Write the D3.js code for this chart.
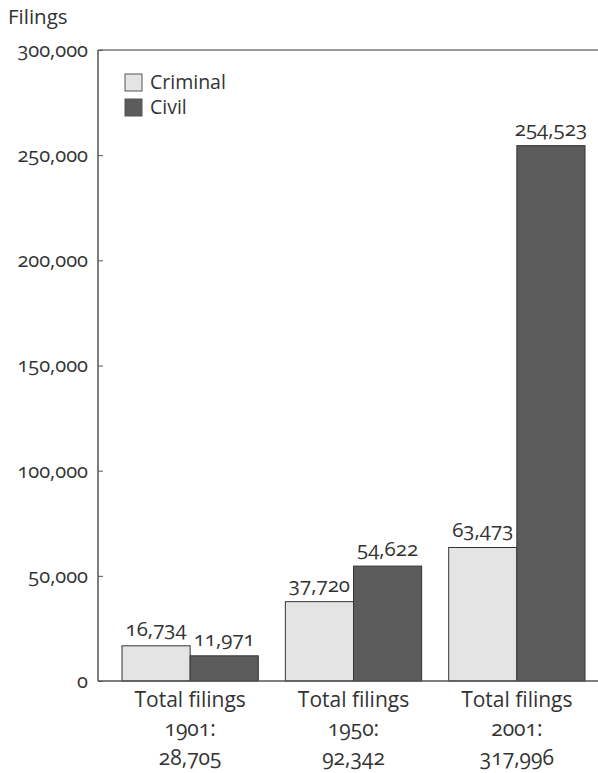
<!DOCTYPE html>
<html>
<head>
<meta charset="utf-8">
<script src="https://cdn.jsdelivr.net/npm/d3@7"></script>
<style>
  body { margin: 0; background: #fff; }
  svg text { font-family: "Open Sans", Lato, sans-serif; fill: #333; font-feature-settings: "onum"; font-variant-numeric: oldstyle-nums; }
</style>
</head>
<body>
<svg id="chart" width="598" height="773"></svg>
<script>
// data
const years = ["1901", "1950", "2001"];
const totals = ["28,705", "92,342", "317,996"];
const series = ["Criminal", "Civil"];
const criminal = [16734, 37720, 63473];
const civil = [11971, 54622, 254523];
const yTicks = [0, 50000, 100000, 150000, 200000, 250000, 300000];

const colors = { Criminal: "#e4e4e4", Civil: "#5c5c5c" };
const fs = "20.5px";

const svg = d3.select("#chart");
const plotLeft = 98, plotRight = 598, plotTop = 50, plotBottom = 681;

const x = d3.scaleBand().domain(years).range([122, 585]).paddingInner(27 / 163).paddingOuter(0);
const xs = d3.scaleBand().domain(series).range([0, x.bandwidth()]);
const y = d3.scaleLinear().domain([0, 300000]).range([plotBottom, plotTop]);

const rows = years.map((yr, i) => ({ year: yr, total: totals[i], values: [
  { key: "Criminal", value: criminal[i] },
  { key: "Civil", value: civil[i] }
]}));

// frame: top rule
svg.append("line").attr("x1", plotLeft).attr("x2", plotRight).attr("y1", plotTop).attr("y2", plotTop)
  .style("stroke", "#777").style("stroke-width", 1.5);

// bars
const g = svg.selectAll("g.grp").data(rows).enter()
  .append("g").attr("class", "grp")
  .attr("transform", d => `translate(${x(d.year)},0)`);

g.selectAll("rect").data(d => d.values).enter()
  .append("rect")
  .attr("x", d => xs(d.key))
  .attr("y", d => y(d.value))
  .attr("width", xs.bandwidth())
  .attr("height", d => plotBottom - y(d.value))
  .style("fill", d => colors[d.key])
  .style("stroke", "#333")
  .style("stroke-width", 1);

g.selectAll("text.val").data(d => d.values).enter()
  .append("text").attr("class", "val")
  .attr("x", d => xs(d.key) + xs.bandwidth() / 2)
  .attr("y", d => y(d.value) - 10)
  .attr("text-anchor", "middle")
  .style("font-size", fs)
  .text(d => d3.format(",")(d.value));

// y axis
const yAxis = d3.axisLeft(y).tickValues(yTicks).tickFormat(d3.format(",")).tickSize(-5).tickPadding(10);
const ya = svg.append("g").attr("transform", `translate(${plotLeft},0)`).call(yAxis);
ya.select(".domain").remove();
ya.selectAll(".tick line").style("stroke", "#555");
ya.selectAll(".tick text").style("font-size", "20px").attr("fill", "#333")
  .style("font-family", "'Open Sans', Lato, sans-serif");
svg.append("line").attr("x1", plotLeft).attr("x2", plotLeft).attr("y1", plotTop).attr("y2", plotBottom)
  .style("stroke", "#555").style("stroke-width", 1.5);

// x baseline
svg.append("line").attr("x1", plotLeft).attr("x2", plotRight).attr("y1", plotBottom).attr("y2", plotBottom)
  .style("stroke", "#555").style("stroke-width", 1.5);

// category labels
const cat = svg.selectAll("text.cat").data(rows).enter()
  .append("text").attr("class", "cat")
  .attr("text-anchor", "middle")
  .style("font-size", "21px")
  .attr("x", d => x(d.year) + x.bandwidth() / 2)
  .attr("y", plotBottom + 26);
cat.append("tspan").attr("x", d => x(d.year) + x.bandwidth() / 2).attr("dy", 0).text("Total filings");
cat.append("tspan").attr("x", d => x(d.year) + x.bandwidth() / 2).attr("dy", 29).text(d => d.year + ":");
cat.append("tspan").attr("x", d => x(d.year) + x.bandwidth() / 2).attr("dy", 29).text(d => d.total);

// axis title
svg.append("text").attr("x", 8).attr("y", 24).style("font-size", fs).text("Filings");

// legend
const lg = svg.selectAll("g.leg").data(series).enter()
  .append("g").attr("class", "leg")
  .attr("transform", (d, i) => `translate(125,${74 + i * 25})`);
lg.append("rect").attr("width", 17).attr("height", 17)
  .style("fill", d => colors[d]).style("stroke", "#555");
lg.append("text").attr("x", 25).attr("y", 15).style("font-size", "19.5px").text(d => d);
</script>
</body>
</html>
